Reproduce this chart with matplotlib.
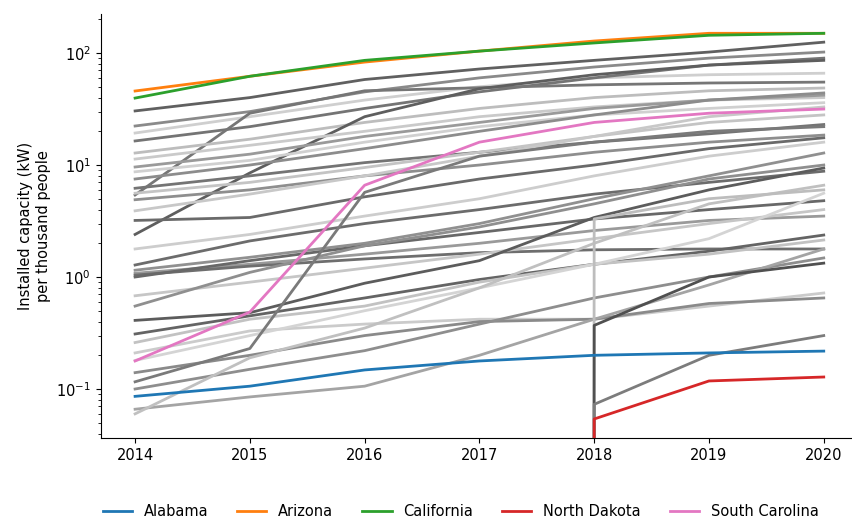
import matplotlib
matplotlib.use("Agg")
import matplotlib.pyplot as plt

years = [2014, 2015, 2016, 2017, 2018, 2019, 2020]

# Highlighted states: installed capacity (kW) per thousand people
alabama = [0.086, 0.106, 0.148, 0.178, 0.20, 0.21, 0.218]
arizona = [45.8, 62, 83, 104, 128, 150, 150]
california = [39.6, 62, 86, 104, 123, 144, 150]
north_dakota = [0, 0, 0, 0, 0.054, 0.118, 0.128]
south_carolina = [0.178, 0.487, 6.6, 16, 24, 29, 31.6]

highlighted = ["Alabama", "Arizona", "California", "North Dakota", "South Carolina"]
highlight_values = [alabama, arizona, california, north_dakota, south_carolina]
highlight_colors = ["tab:blue", "tab:orange", "tab:green", "tab:red", "tab:pink"]

# Remaining states (zero = no installed capacity yet)
other_states = [
    [30.4, 40, 58, 72, 86, 102, 125],
    [22.3, 30, 45, 60, 75, 90, 102],
    [19.3, 27, 38, 50, 60, 64, 66],
    [16.4, 22, 32, 45, 60, 78, 90],
    [5.4, 29, 46, 49, 52, 54, 55],
    [12.8, 17, 24, 32, 40, 46, 48.7],
    [2.4, 8.5, 27, 48, 64, 78, 86],
    [11.3, 15, 20, 27, 33, 38, 40],
    [9.6, 12.5, 18, 24, 32, 38, 42],
    [8.7, 11, 16, 22, 28, 32, 36],
    [7.5, 10, 14, 20, 28, 38, 44],
    [6.2, 8, 10.5, 13, 16, 19, 23],
    [5.6, 7, 9.5, 13, 18, 24, 28],
    [4.9, 6, 8, 10, 13, 16, 18.5],
    [3.9, 5.5, 8, 12, 18, 27, 33],
    [3.2, 3.4, 5.2, 7.5, 10, 14, 17.5],
    [1.78, 2.4, 3.5, 5, 8, 12, 16],
    [1.28, 2.1, 3.0, 4.0, 5.5, 7, 8.8],
    [1.15, 1.5, 2.0, 3.0, 5, 8, 12.8],
    [1.08, 1.3, 1.6, 2.0, 2.6, 3.2, 3.5],
    [1.04, 1.25, 1.45, 1.65, 1.75, 1.78, 1.78],
    [1.0, 1.4, 1.9, 2.5, 3.3, 4.0, 4.8],
    [0.68, 0.9, 1.2, 1.6, 2.2, 3.0, 4.0],
    [0.55, 1.1, 1.9, 2.8, 4.5, 7.5, 10],
    [0.41, 0.48, 0.88, 1.4, 3.4, 6.0, 9.4],
    [0.31, 0.45, 0.65, 0.95, 1.3, 1.7, 2.37],
    [0.26, 0.42, 0.55, 0.9, 1.3, 1.6, 2.14],
    [0.21, 0.33, 0.38, 0.42, 0.42, 0.55, 0.72],
    [0.18, 0.3, 0.5, 0.8, 1.3, 2.2, 5.6],
    [0.14, 0.2, 0.3, 0.4, 0.42, 0.58, 0.65],
    [0.116, 0.23, 5.7, 12, 16, 20, 22],
    [0.1, 0.15, 0.22, 0.38, 0.65, 1.0, 1.48],
    [0.066, 0.085, 0.106, 0.2, 0.42, 0.85, 1.78],
    [0.06, 0.19, 0.35, 0.8, 2.0, 4.5, 6.6],
    [0, 0, 0, 0, 3.3, 5.0, 6.0],
    [0, 0, 0, 0, 0.37, 1.0, 1.33],
    [0, 0, 0, 0, 0.073, 0.2, 0.3],
]

# grey shade for each background line
shades = [
    "#606060", "#8a8a8a", "#cfcfcf", "#747474", "#767676", "#bdbdbd",
    "#5e5e5e", "#cacaca", "#9a9a9a", "#d0d0d0", "#8c8c8c", "#747474",
    "#c4c4c4", "#8e8e8e", "#c8c8c8", "#6a6a6a", "#cdcdcd", "#6c6c6c",
    "#909090", "#9a9a9a", "#6e6e6e", "#686868", "#c6c6c6", "#8f8f8f",
    "#5c5c5c", "#646464", "#c2c2c2", "#cbcbcb", "#d4d4d4", "#8a8a8a",
    "#7a7a7a", "#8e8e8e", "#a4a4a4", "#c0c0c0", "#bdbdbd", "#505050",
    "#7c7c7c",
]

fig = plt.figure(figsize=(8.53, 5.19), dpi=100)
ax = fig.add_axes([0.118, 0.156, 0.88, 0.817])
ax.set_yscale("log", nonpositive="clip")

for values, shade in zip(other_states, shades):
    ax.plot(years, values, color=shade, lw=2.0, zorder=1)

for name, values, color in zip(highlighted, highlight_values, highlight_colors):
    ax.plot(years, values, color=color, lw=2.0, label=name, zorder=3)

ax.set_xlim(2013.7, 2020.24)
ax.set_ylim(0.0365, 223)
ax.set_xticks(years)
ax.set_xticklabels([str(y) for y in years])
ax.tick_params(labelsize=10.5)
ax.set_ylabel("Installed capacity (kW)\nper thousand people", fontsize=10.5)
ax.spines["top"].set_visible(False)
ax.spines["right"].set_visible(False)

fig.legend(loc="center", bbox_to_anchor=(0.54, 0.0135), ncol=5, frameon=False,
           fontsize=10.5)

fig.savefig("out.png", dpi=100)
